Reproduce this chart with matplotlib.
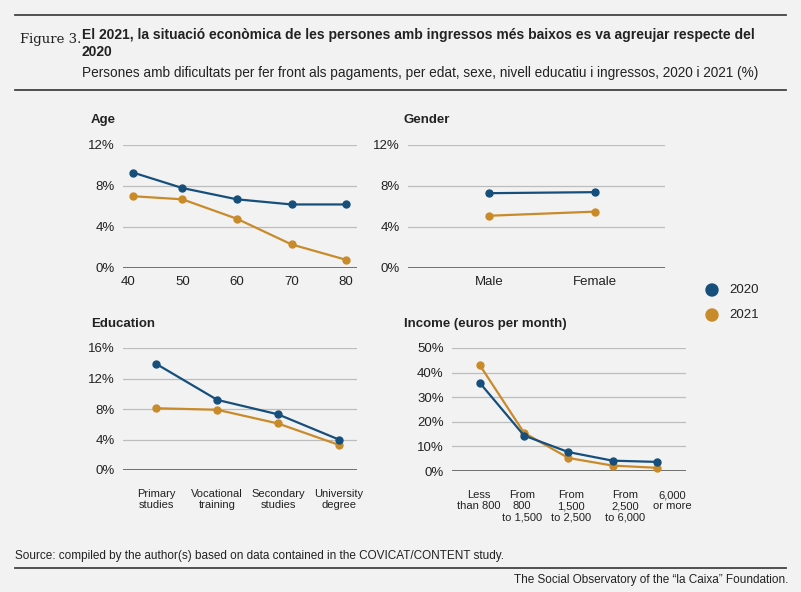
import matplotlib
matplotlib.use("Agg")
import matplotlib.pyplot as plt

age_x = [41, 50, 60, 70, 80]
age_2020 = [9.3, 7.8, 6.7, 6.2, 6.2]
age_2021 = [7.0, 6.7, 4.8, 2.3, 0.8]
gender_cats = ["Male", "Female"]
gender_2020 = [7.3, 7.4]
gender_2021 = [5.1, 5.5]
edu_cats = ["Primary\nstudies", "Vocational\ntraining", "Secondary\nstudies", "University\ndegree"]
edu_2020 = [13.9, 9.2, 7.3, 4.0]
edu_2021 = [8.1, 7.9, 6.1, 3.3]
inc_cats = ["Less\nthan 800", "From\n800\nto 1,500", "From\n1,500\nto 2,500", "From\n2,500\nto 6,000", "6,000\nor more"]
inc_2020 = [35.8, 14.4, 7.7, 4.2, 3.7]
inc_2021 = [43.0, 15.5, 5.3, 2.2, 1.3]

BG = "#f2f2f2"; C20 = "#164f7c"; C21 = "#c98b2a"; TXT = "#222222"
W, H = 801, 592
fig = plt.figure(figsize=(W/100, H/100), dpi=100, facecolor=BG)
plt.rcParams['font.family'] = ['Liberation Sans', 'DejaVu Sans']

def ax_at(l, t, r, b):
    return fig.add_axes([l/W, 1-b/H, (r-l)/W, (b-t)/H], facecolor=BG)

def style(ax, ticks, labels):
    for s in ax.spines.values():
        s.set_visible(False)
    ax.set_yticks(ticks)
    ax.set_yticklabels(labels)
    ax.grid(axis='y', color='#bdbdbd', lw=0.9)
    ax.axhline(0, color='#666666', lw=1.3)
    ax.tick_params(length=0, labelsize=9.5, colors=TXT, pad=6)
    ax.set_ylim(ticks[0], ticks[-1])

def plot(ax, x, a, b):
    ax.plot(x, b, color=C21, marker='o', ms=5, lw=1.6, clip_on=False, zorder=3)
    ax.plot(x, a, color=C20, marker='o', ms=5, lw=1.6, clip_on=False, zorder=4)

# Age
ax = ax_at(123, 145, 357, 268)
plot(ax, age_x, age_2020, age_2021)
style(ax, [0, 4, 8, 12], ["0%", "4%", "8%", "12%"])
ax.set_xlim(39.1, 82)
ax.set_xticks([40, 50, 60, 70, 80])
fig.text(91/W, 1-120/H, "Age", fontsize=9.5, fontweight='bold', va='center', color=TXT)

# Gender
ax = ax_at(408, 145, 665, 268)
plot(ax, [0, 1], gender_2020, gender_2021)
style(ax, [0, 4, 8, 12], ["0%", "4%", "8%", "12%"])
ax.set_xlim(-0.77, 1.66)
ax.set_xticks([0, 1]); ax.set_xticklabels(gender_cats)
fig.text(404/W, 1-120/H, "Gender", fontsize=9.5, fontweight='bold', va='center', color=TXT)

# Education
ax = ax_at(123, 348, 357, 470)
plot(ax, [0, 1, 2, 3], edu_2020, edu_2021)
style(ax, [0, 4, 8, 12, 16], ["0%", "4%", "8%", "12%", "16%"])
ax.set_xlim(-0.55, 3.3)
ax.set_xticks([0, 1, 2, 3]); ax.set_xticklabels(edu_cats, linespacing=1.1, va='top')
ax.tick_params(axis='x', labelsize=8, pad=14)
fig.text(91/W, 1-324/H, "Education", fontsize=9.5, fontweight='bold', va='center', color=TXT)

# Income
ax = ax_at(452, 348, 686, 471)
plot(ax, [0, 1, 2, 3, 4], inc_2020, inc_2021)
style(ax, [0, 10, 20, 30, 40, 50], ["0%", "10%", "20%", "30%", "40%", "50%"])
ax.set_xlim(-0.63, 4.66)
ax.set_xticks([-0.02, 0.95, 2.06, 3.28, 4.34]); ax.set_xticklabels(inc_cats, linespacing=1.1, va='top')
ax.tick_params(axis='x', labelsize=8, pad=14)
fig.text(404/W, 1-324/H, "Income (euros per month)", fontsize=9.5, fontweight='bold', va='center', color=TXT)

# Legend
for yy, c, lab in [(290, C20, "2020"), (315, C21, "2021")]:
    fig.patches.append(matplotlib.patches.Ellipse((712/W, 1-yy/H), 12/W, 12/H, transform=fig.transFigure, color=c))
    fig.text(729/W, 1-yy/H, lab, fontsize=9.5, va='center', color=TXT)

# Header / footer
def hline(y, x0=15, x1=786, lw=1.3, c='#444444'):
    fig.add_artist(plt.Line2D([x0/W, x1/W], [1-y/H, 1-y/H], color=c, lw=lw))
hline(15); hline(90)
fig.text(20/W, 1-40/H, "Figure 3.", family='DejaVu Serif', fontsize=9.5, va='center', color=TXT)
fig.text(82/W, 1-35/H, "El 2021, la situació econòmica de les persones amb ingressos més baixos es va agreujar respecte del",
         fontsize=10, fontweight='bold', va='center', color=TXT)
fig.text(82/W, 1-52/H, "2020", fontsize=10, fontweight='bold', va='center', color=TXT)
fig.text(82/W, 1-73/H, "Persones amb dificultats per fer front als pagaments, per edat, sexe, nivell educatiu i ingressos, 2020 i 2021 (%)",
         fontsize=9.8, va='center', color=TXT)
fig.text(15/W, 1-556/H, "Source: compiled by the author(s) based on data contained in the COVICAT/CONTENT study.",
         fontsize=8.5, va='center', color=TXT)
hline(568)
fig.text(788/W, 1-580/H, "The Social Observatory of the \u201cla Caixa\u201d Foundation.", fontsize=8.5, va='center', ha='right', color=TXT)

fig.savefig("out.png", dpi=100, facecolor=BG)
